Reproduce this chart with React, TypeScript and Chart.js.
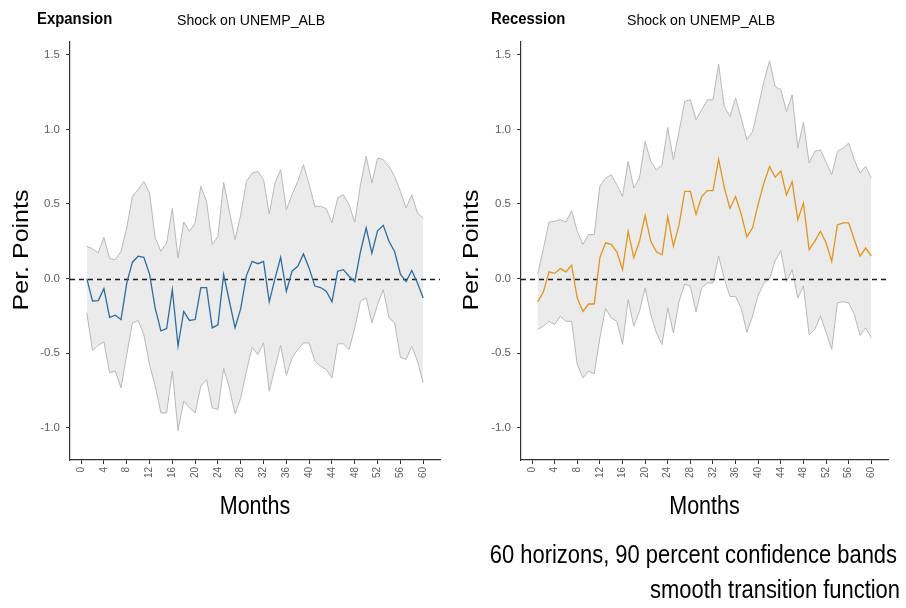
import React, { useEffect, useRef } from "react";
import { Chart, registerables } from "chart.js";

Chart.register(...registerables);

// Horizons (months after the shock) and axis tick values
const months = [
  1, 2, 3, 4, 5, 6, 7, 8, 9, 10, 11, 12, 13, 14, 15, 16, 17, 18, 19, 20,
  21, 22, 23, 24, 25, 26, 27, 28, 29, 30, 31, 32, 33, 34, 35, 36, 37, 38, 39, 40,
  41, 42, 43, 44, 45, 46, 47, 48, 49, 50, 51, 52, 53, 54, 55, 56, 57, 58, 59, 60,
];
const monthTicks = [0, 4, 8, 12, 16, 20, 24, 28, 32, 36, 40, 44, 48, 52, 56, 60];
const valueTicks = [-1.0, -0.5, 0.0, 0.5, 1.0, 1.5];

// Expansion regime: response and 90% band
const expansionIrf = [
  0.0, -0.15, -0.147, -0.067, -0.26, -0.245, -0.275, -0.03, 0.11, 0.15,
  0.143, 0.03, -0.2, -0.35, -0.335, -0.074, -0.45, -0.22, -0.28, -0.274,
  -0.06, -0.06, -0.33, -0.31, 0.027, -0.15, -0.33, -0.2, 0.02, 0.116,
  0.1, 0.116, -0.156, 0.0, 0.143, -0.085, 0.05, 0.083, 0.165, 0.07,
  -0.05, -0.06, -0.085, -0.156, 0.05, 0.06, 0.016, -0.02, 0.18, 0.34,
  0.17, 0.32, 0.357, 0.25, 0.18, 0.03, -0.02, 0.054, -0.03, -0.13,
];
const expansionUpper = [
  0.216, 0.2, 0.172, 0.277, 0.134, 0.127, 0.183, 0.34, 0.551, 0.596,
  0.651, 0.573, 0.272, 0.183, 0.239, 0.469, 0.138, 0.379, 0.317, 0.373,
  0.618, 0.518, 0.228, 0.283, 0.645, 0.451, 0.261, 0.428, 0.651, 0.707,
  0.718, 0.663, 0.433, 0.64, 0.73, 0.462, 0.562, 0.651, 0.763, 0.63,
  0.484, 0.484, 0.469, 0.373, 0.54, 0.562, 0.495, 0.379, 0.63, 0.819,
  0.64, 0.808, 0.797, 0.752, 0.685, 0.585, 0.473, 0.562, 0.44, 0.406,
];
const expansionLower = [
  -0.23, -0.482, -0.446, -0.424, -0.631, -0.62, -0.732, -0.509, -0.297, -0.281,
  -0.375, -0.576, -0.72, -0.9, -0.9, -0.62, -1.017, -0.821, -0.866, -0.9,
  -0.72, -0.676, -0.866, -0.877, -0.602, -0.732, -0.906, -0.799, -0.62, -0.46,
  -0.509, -0.431, -0.754, -0.598, -0.446, -0.647, -0.531, -0.475, -0.431, -0.431,
  -0.553, -0.587, -0.609, -0.665, -0.437, -0.437, -0.475, -0.33, -0.152, -0.129,
  -0.297, -0.174, -0.074, -0.263, -0.297, -0.527, -0.542, -0.453, -0.553, -0.698,
];

// Recession regime: response and 90% band
const recessionIrf = [
  -0.156, -0.09, 0.045, 0.035, 0.067, 0.045, 0.09, -0.13, -0.22, -0.17,
  -0.17, 0.14, 0.24, 0.23, 0.18, 0.06, 0.317, 0.14, 0.25, 0.424,
  0.25, 0.18, 0.16, 0.417, 0.216, 0.36, 0.585, 0.585, 0.43, 0.55,
  0.59, 0.59, 0.8, 0.61, 0.47, 0.55, 0.43, 0.28, 0.34, 0.5,
  0.64, 0.75, 0.68, 0.72, 0.56, 0.65, 0.395, 0.506, 0.194, 0.25,
  0.317, 0.24, 0.116, 0.36, 0.373, 0.373, 0.26, 0.15, 0.205, 0.15,
];
const recessionUpper = [
  0.03, 0.2, 0.379, 0.384, 0.395, 0.379, 0.455, 0.317, 0.228, 0.295,
  0.295, 0.62, 0.673, 0.696, 0.629, 0.55, 0.785, 0.607, 0.673, 0.919,
  0.785, 0.729, 0.763, 1.013, 0.796, 0.986, 1.187, 1.198, 1.064, 1.131,
  1.198, 1.198, 1.436, 1.153, 1.086, 1.209, 1.075, 0.93, 0.986, 1.15,
  1.32, 1.459, 1.287, 1.265, 1.12, 1.231, 0.874, 1.048, 0.774, 0.852,
  0.863, 0.78, 0.696, 0.852, 0.874, 0.908, 0.796, 0.707, 0.752, 0.673,
];
const recessionLower = [
  -0.341, -0.319, -0.286, -0.308, -0.252, -0.286, -0.286, -0.576, -0.665, -0.62,
  -0.638, -0.397, -0.2, -0.263, -0.286, -0.442, -0.141, -0.319, -0.219, -0.062,
  -0.241, -0.364, -0.442, -0.196, -0.364, -0.152, -0.036, -0.051, -0.223, -0.062,
  -0.029, -0.029, 0.15, 0.0, -0.12, -0.12, -0.2, -0.36, -0.25, -0.11,
  -0.03, 0.0, 0.12, 0.187, -0.02, 0.06, -0.13, -0.05, -0.375, -0.34,
  -0.25, -0.36, -0.475, -0.163, -0.155, -0.163, -0.24, -0.38, -0.33, -0.397,
];

const FONT = "'Liberation Sans', Arial, Helvetica, sans-serif";
const X_MIN = -1.95;
const X_MAX = 62.95;
const Y_MIN = -1.215;
const Y_MAX = 1.585;
// Horizontal squeeze applied to the large labels (condensed look)
const SQUEEZE = 0.86;

const toPoints = (ys: number[]) => months.map((m, i) => ({ x: m, y: ys[i] }));

// Dashed reference line at zero, drawn over the band but under the response line
const zeroLine = {
  id: "zeroLine",
  beforeDatasetDraw(chart: any, args: any) {
    if (args.index !== 0) return;
    const { ctx, chartArea, scales } = chart;
    const y = Math.round(scales.y.getPixelForValue(0)) + 0.5;
    ctx.save();
    ctx.beginPath();
    ctx.setLineDash([5, 4]);
    ctx.lineWidth = 1.4;
    ctx.strokeStyle = "#1a1a1a";
    ctx.moveTo(chartArea.left, y);
    ctx.lineTo(chartArea.right, y);
    ctx.stroke();
    ctx.restore();
  },
};

type TextItem = {
  text: string;
  x: number;
  y: number;
  font: string;
  align?: CanvasTextAlign;
  baseline?: CanvasTextBaseline;
  vertical?: boolean;
  sx?: number;
};

// Free-standing labels (panel titles, axis titles, notes)
const panelText = {
  id: "panelText",
  afterDraw(chart: any, _args: any, opts: any) {
    const { ctx } = chart;
    for (const t of (opts.items || []) as TextItem[]) {
      ctx.save();
      ctx.translate(t.x, t.y);
      ctx.scale(t.sx ?? 1, 1);
      if (t.vertical) ctx.rotate(-Math.PI / 2);
      ctx.font = t.font;
      ctx.fillStyle = "#000";
      ctx.textAlign = t.align || "left";
      ctx.textBaseline = t.baseline || "alphabetic";
      ctx.fillText(t.text, 0, 0);
      ctx.restore();
    }
  },
};

type PanelSpec = {
  irf: number[];
  upper: number[];
  lower: number[];
  color: string;
  yAxisWidth: number;
  padRight: number;
  texts: TextItem[];
};

function buildConfig(p: PanelSpec): any {
  return {
    type: "line",
    data: {
      datasets: [
        {
          label: "response",
          data: toPoints(p.irf),
          borderColor: p.color,
          borderWidth: 1.3,
          pointRadius: 0,
          tension: 0,
          fill: false,
        },
        {
          label: "lower",
          data: toPoints(p.lower),
          borderColor: "#b8b8b8",
          borderWidth: 1,
          pointRadius: 0,
          tension: 0,
          fill: false,
        },
        {
          label: "upper",
          data: toPoints(p.upper),
          borderColor: "#b8b8b8",
          borderWidth: 1,
          pointRadius: 0,
          tension: 0,
          fill: 1,
          backgroundColor: "#ebebeb",
        },
      ],
    },
    options: {
      responsive: false,
      animation: false,
      events: [],
      layout: { padding: { top: 42, right: p.padRight, bottom: 0, left: 0 } },
      plugins: {
        legend: { display: false },
        tooltip: { enabled: false },
        panelText: { items: p.texts },
      },
      scales: {
        x: {
          type: "linear",
          min: X_MIN,
          max: X_MAX,
          afterBuildTicks: (s: any) => {
            s.ticks = monthTicks.map((v) => ({ value: v }));
          },
          afterFit: (s: any) => {
            s.height = 148;
          },
          grid: { drawOnChartArea: false, drawTicks: true, tickLength: 4, color: "#333", lineWidth: 1 },
          border: { display: true, color: "#333", width: 1.2 },
          ticks: {
            autoSkip: false,
            minRotation: 90,
            maxRotation: 90,
            padding: 3,
            color: "#5e5e5e",
            font: { family: FONT, size: 10 },
            callback: (v: any) => String(v),
          },
          title: { display: false },
        },
        y: {
          type: "linear",
          min: Y_MIN,
          max: Y_MAX,
          afterBuildTicks: (s: any) => {
            s.ticks = valueTicks.map((v) => ({ value: v }));
          },
          afterFit: (s: any) => {
            s.width = p.yAxisWidth;
          },
          grid: { drawOnChartArea: false, drawTicks: true, tickLength: 4, color: "#333", lineWidth: 1 },
          border: { display: true, color: "#333", width: 1.2 },
          ticks: {
            padding: 6,
            color: "#5e5e5e",
            font: { family: FONT, size: 11.5 },
            callback: (v: any) => Number(v).toFixed(1),
          },
          title: { display: false },
        },
      },
    },
    plugins: [zeroLine, panelText],
  };
}

const axisTitleFont = `25px ${FONT}`;

export default function App() {
  const leftRef = useRef<HTMLCanvasElement | null>(null);
  const rightRef = useRef<HTMLCanvasElement | null>(null);

  useEffect(() => {
    if (!leftRef.current || !rightRef.current) return;
    const left = new Chart(
      leftRef.current,
      buildConfig({
        irf: expansionIrf,
        upper: expansionUpper,
        lower: expansionLower,
        color: "#2d6c9c",
        yAxisWidth: 70,
        padRight: 13,
        texts: [
          { text: "Expansion", x: 37, y: 24, font: `bold 16px ${FONT}`, sx: 0.93 },
          { text: "Shock on UNEMP_ALB", x: 177, y: 25, font: `15px ${FONT}`, sx: 0.94 },
          { text: "Months", x: 255, y: 507, font: axisTitleFont, align: "center", baseline: "middle", sx: SQUEEZE },
          { text: "Per. Points", x: 22, y: 250, font: axisTitleFont, align: "center", baseline: "middle", vertical: true, sx: SQUEEZE },
        ],
      })
    );
    const right = new Chart(
      rightRef.current,
      buildConfig({
        irf: recessionIrf,
        upper: recessionUpper,
        lower: recessionLower,
        color: "#e0951f",
        yAxisWidth: 68,
        padRight: 18,
        texts: [
          { text: "Recession", x: 38, y: 24, font: `bold 16px ${FONT}`, sx: 0.93 },
          { text: "Shock on UNEMP_ALB", x: 174, y: 25, font: `15px ${FONT}`, sx: 0.94 },
          { text: "Months", x: 251.5, y: 507, font: axisTitleFont, align: "center", baseline: "middle", sx: SQUEEZE },
          { text: "Per. Points", x: 19, y: 250, font: axisTitleFont, align: "center", baseline: "middle", vertical: true, sx: SQUEEZE },
          { text: "60 horizons, 90 percent confidence bands", x: 444, y: 563, font: `25.5px ${FONT}`, align: "right", sx: SQUEEZE },
          { text: "smooth transition function", x: 447, y: 598, font: `25.5px ${FONT}`, align: "right", sx: SQUEEZE },
        ],
      })
    );
    return () => {
      left.destroy();
      right.destroy();
    };
  }, []);

  return (
    <div style={{ position: "fixed", left: 0, top: 0, width: 906, height: 608, background: "#fff" }}>
      <canvas
        ref={leftRef}
        width={453}
        height={608}
        style={{ position: "absolute", left: 0, top: 0, width: 453, height: 608 }}
      />
      <canvas
        ref={rightRef}
        width={453}
        height={608}
        style={{ position: "absolute", left: 453, top: 0, width: 453, height: 608 }}
      />
    </div>
  );
}
